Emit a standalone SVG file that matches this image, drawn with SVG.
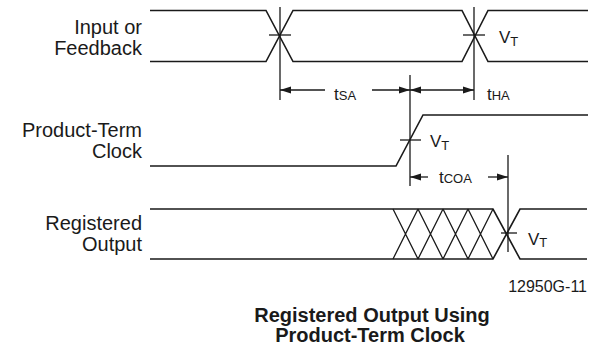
<svg xmlns="http://www.w3.org/2000/svg" width="594" height="350" viewBox="0 0 594 350">
<style>
.w{fill:none;stroke:#1a1a1a;stroke-width:1.6}
.t{fill:none;stroke:#1a1a1a;stroke-width:1.3}
.a{fill:none;stroke:#1a1a1a;stroke-width:1.3}
.lbl{font-family:"Liberation Sans",Arial,sans-serif;font-size:20px;fill:#1a1a1a;text-anchor:end}
.sym{font-family:"Liberation Sans",Arial,sans-serif;fill:#1a1a1a}
.ttl{font-family:"Liberation Sans",Arial,sans-serif;font-size:20px;font-weight:bold;fill:#1a1a1a;text-anchor:middle}
</style>
<defs>
<marker id="ah" markerUnits="userSpaceOnUse" markerWidth="12" markerHeight="8" refX="11" refY="4" orient="auto-start-reverse">
<path d="M0,0.5 L11,4 L0,7.5 z" fill="#1a1a1a"/>
</marker>
</defs>

<g id="input-feedback">
<text class="lbl" x="142" y="34">Input or</text>
<text class="lbl" x="142" y="55">Feedback</text>
<path class="w" d="M150,10.5 H266 L293,61.5 H462 L488,10.5 H588"/>
<path class="w" d="M150,61.5 H266 L293,10.5 H462 L488,61.5 H588"/>
<line class="t" x1="269" y1="35" x2="291" y2="35"/>
<line class="t" x1="463" y1="35" x2="485" y2="35"/>
<text class="sym" x="499" y="43" font-size="17">V<tspan font-size="13" dy="3">T</tspan></text>
</g>

<g id="product-term-clock">
<text class="lbl" x="142" y="137">Product-Term</text>
<text class="lbl" x="142" y="158">Clock</text>
<path class="w" d="M150,166 H396 L423,115 H588"/>
<line class="t" x1="400" y1="140" x2="421" y2="140"/>
<text class="sym" x="430" y="147" font-size="17">V<tspan font-size="13" dy="3">T</tspan></text>
</g>

<g id="registered-output">
<text class="lbl" x="142" y="230">Registered</text>
<text class="lbl" x="142" y="251">Output</text>
<path class="w" d="M150,209 H493 L520,259 H587"/>
<path class="w" d="M150,259 H493 L520,209 H587"/>
<path class="t" d="M393,209 L418,259 M418,209 L443,259 M443,209 L468,259 M468,209 L493,259 M393,259 L418,209 M418,259 L443,209 M443,259 L468,209 M468,259 L493,209"/>
<line class="t" x1="501" y1="233" x2="517" y2="233"/>
<text class="sym" x="528" y="245" font-size="17">V<tspan font-size="13" dy="2">T</tspan></text>
</g>

<g id="connectors">
<line class="t" x1="280" y1="7" x2="280" y2="100"/>
<line class="t" x1="474" y1="7" x2="474" y2="100"/>
<line class="t" x1="410" y1="75" x2="410" y2="186"/>
<line class="t" x1="508" y1="155" x2="508" y2="252"/>
<line class="a" x1="325" y1="90" x2="280" y2="90" marker-end="url(#ah)"/>
<line class="a" x1="372" y1="90" x2="410" y2="90" marker-end="url(#ah)"/>
<line class="a" x1="410" y1="90" x2="474" y2="90" marker-start="url(#ah)" marker-end="url(#ah)"/>
<line class="a" x1="428" y1="177" x2="410" y2="177" marker-end="url(#ah)"/>
<line class="a" x1="488" y1="177" x2="508" y2="177" marker-end="url(#ah)"/>
</g>

<g id="timing-labels">
<text class="sym" x="334" y="100" font-size="17">t<tspan font-size="13">SA</tspan></text>
<text class="sym" x="487" y="100" font-size="17">t<tspan font-size="13">HA</tspan></text>
<text class="sym" x="439" y="183" font-size="17">t<tspan font-size="13">COA</tspan></text>
</g>

<g id="caption">
<text class="sym" x="587" y="292" font-size="16" text-anchor="end">12950G-11</text>
<text class="ttl" x="372" y="322">Registered Output Using</text>
<text class="ttl" x="370" y="342">Product-Term Clock</text>
</g>
</svg>
